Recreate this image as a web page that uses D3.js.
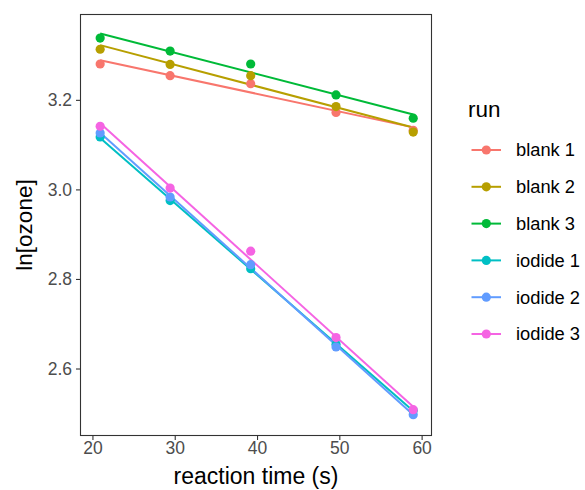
<!DOCTYPE html>
<html>
<head>
<meta charset="utf-8">
<script src="https://cdn.jsdelivr.net/npm/d3@7"></script>
<style>
  html, body { margin: 0; padding: 0; background: #fff; }
  svg { display: block; font-family: "Liberation Sans", Arial, Helvetica, sans-serif; }
</style>
</head>
<body>
<svg id="chart" width="585" height="490"></svg>
<script>
// ---- data ----
const runs = ["blank 1", "blank 2", "blank 3", "iodide 1", "iodide 2", "iodide 3"];
const times = [20.94, 29.44, 39.23, 49.6, 58.98];
const blank1 = [3.280, 3.254, 3.236, 3.172, 3.132];
const blank2 = [3.313, 3.279, 3.254, 3.185, 3.128];
const blank3 = [3.338, 3.309, 3.280, 3.211, 3.159];
const iodide1 = [3.117, 2.975, 2.823, 2.654, 2.506];
const iodide2 = [3.126, 2.983, 2.832, 2.648, 2.497];
const iodide3 = [3.141, 3.003, 2.862, 2.669, 2.508];
const xTicks = [20, 30, 40, 50, 60];
const yTicks = [2.6, 2.8, 3.0, 3.2];
const colors = ["#F8766D", "#B79F00", "#00BA38", "#00BFC4", "#619CFF", "#F564E3"];

const seriesValues = [blank1, blank2, blank3, iodide1, iodide2, iodide3];
const series = runs.map((r, i) => ({
  run: r,
  color: colors[i],
  points: times.map((t, j) => ({ x: t, y: seriesValues[i][j] }))
}));

// ---- layout ----
const svg = d3.select("#chart");
const panel = { left: 80.5, top: 14.5, right: 431.5, bottom: 435.5 };

const x = d3.scaleLinear().domain([18.55, 61.2]).range([panel.left, panel.right]);
const y = d3.scaleLinear().domain([2.4504, 3.3906]).range([panel.bottom, panel.top]);

// linear regression per run (as geom_smooth(method = "lm"))
function fit(pts) {
  const mx = d3.mean(pts, d => d.x), my = d3.mean(pts, d => d.y);
  const b = d3.sum(pts, d => (d.x - mx) * (d.y - my)) / d3.sum(pts, d => (d.x - mx) ** 2);
  const a = my - b * mx;
  const x0 = d3.min(pts, d => d.x), x1 = d3.max(pts, d => d.x);
  return [{ x: x0, y: a + b * x0 }, { x: x1, y: a + b * x1 }];
}

const plot = svg.append("g");
const line = d3.line().x(d => x(d.x)).y(d => y(d.y));

plot.selectAll("path.fit").data(series).join("path")
  .attr("class", "fit")
  .attr("d", s => line(fit(s.points)))
  .attr("fill", "none")
  .attr("stroke", s => s.color)
  .attr("stroke-width", 2);

series.forEach(s => {
  plot.append("g").selectAll("circle").data(s.points).join("circle")
    .attr("cx", d => x(d.x))
    .attr("cy", d => y(d.y))
    .attr("r", 4.6)
    .attr("fill", s.color);
});

// panel border
svg.append("rect")
  .attr("x", panel.left).attr("y", panel.top)
  .attr("width", panel.right - panel.left)
  .attr("height", panel.bottom - panel.top)
  .attr("fill", "none").attr("stroke", "#333333").attr("stroke-width", 1.1);

// axes
const xAxis = svg.append("g")
  .attr("transform", `translate(0,${panel.bottom})`)
  .call(d3.axisBottom(x).tickValues(xTicks).tickSize(4.5).tickPadding(2).tickFormat(d3.format("d")));
const yAxis = svg.append("g")
  .attr("transform", `translate(${panel.left},0)`)
  .call(d3.axisLeft(y).tickValues(yTicks).tickSize(4.5).tickPadding(4).tickFormat(d3.format(".1f")));
[xAxis, yAxis].forEach(g => {
  g.select(".domain").remove();
  g.selectAll(".tick line").attr("stroke", "#333333").attr("stroke-width", 1.1);
  g.selectAll(".tick text").attr("fill", "#4D4D4D").style("font-size", "17.5px")
    .style("font-family", "'Liberation Sans', Arial, sans-serif");
});

// axis titles
svg.append("text")
  .attr("x", (panel.left + panel.right) / 2).attr("y", 484)
  .attr("text-anchor", "middle").style("font-size", "23px").attr("fill", "#000")
  .text("reaction time (s)");
svg.append("text")
  .attr("transform", `translate(32,${(panel.top + panel.bottom) / 2}) rotate(-90)`)
  .attr("text-anchor", "middle").style("font-size", "22.5px").attr("fill", "#000")
  .text("ln[ozone]");

// legend
const legend = svg.append("g");
legend.append("text").attr("x", 468).attr("y", 117)
  .style("font-size", "22.5px").attr("fill", "#000").text("run");
const rowY = d3.scalePoint().domain(runs).range([150, 334]);
const items = legend.selectAll("g.item").data(series).join("g")
  .attr("class", "item")
  .attr("transform", s => `translate(0,${rowY(s.run)})`);
items.append("line").attr("x1", 471.5).attr("x2", 501).attr("y1", 0).attr("y2", 0)
  .attr("stroke", s => s.color).attr("stroke-width", 2);
items.append("circle").attr("cx", 486.3).attr("cy", 0).attr("r", 4.6).attr("fill", s => s.color);
items.append("text").attr("x", 516).attr("y", 0).attr("dy", "0.35em")
  .style("font-size", "18.3px").attr("fill", "#000").text(s => s.run);
</script>
</body>
</html>
